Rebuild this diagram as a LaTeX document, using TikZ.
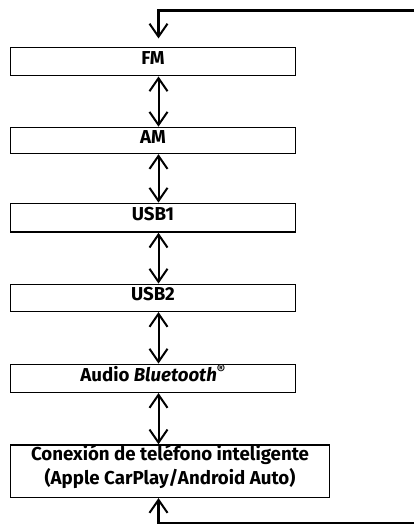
\documentclass[tikz,border=0pt]{standalone}
\usepackage{fontspec}
\setmainfont{Fira Sans}
\usetikzlibrary{arrows.meta}
\begin{document}
\begin{tikzpicture}[x=1bp,y=-1bp,
  font=\fontsize{18.7bp}{23.6bp}\selectfont\bfseries,
  modebox/.style={draw, line width=1.5bp, inner sep=0pt, text height=13bp, text depth=7.4bp, align=center},
  swap/.style={line width=2bp, {Straight Barb[length=13bp,width=18bp]}-{Straight Barb[length=13bp,width=18bp]}},
  loop/.style={line width=2.6bp, line cap=butt, line join=miter},
  looptip/.style={-{Straight Barb[length=13bp,width=18bp,line width=2bp]}}
]
\useasboundingbox (0,0) rectangle (414,525);
\coordinate (tl) at (158.5,10.5);
\coordinate (tr) at (414,10.5);
\coordinate (bl) at (158.5,523);
\coordinate (br) at (414,523);
\node[modebox, minimum width=284.6bp, minimum height=28bp] (fm) at (153,61.7) {FM};
\node[modebox, minimum width=284.6bp, minimum height=26bp] (am) at (153,140.4) {AM};
\node[modebox, minimum width=284.6bp, minimum height=28.7bp] (usb1) at (153,217.7) {USB1};
\node[modebox, minimum width=284.6bp, minimum height=27bp] (usb2) at (153,297.8) {USB2};
\node[modebox, minimum width=284.6bp, minimum height=28bp] (bt) at (153,378.3) {Audio \textit{Bluetooth}\textsuperscript{\textregistered}};
\node[modebox, text height=36.6bp, text depth=10.4bp, minimum width=318.6bp, minimum height=52.3bp] (cp) at (170,471.2) {Conexión de teléfono inteligente\\(Apple CarPlay/Android Auto)};
\draw[loop, looptip, shorten >=8.5bp] (tr) -- (tl) -- (tl |- fm.north);
\draw[swap] (tl |- fm.south) -- (tl |- am.north);
\draw[swap] (tl |- am.south) -- (tl |- usb1.north);
\draw[swap] (tl |- usb1.south) -- (tl |- usb2.north);
\draw[swap] (tl |- usb2.south) -- (tl |- bt.north);
\draw[swap] (tl |- bt.south) -- (tl |- cp.north);
\draw[loop, looptip] (br) -- (bl) -- (bl |- cp.south);
\end{tikzpicture}
\end{document}
